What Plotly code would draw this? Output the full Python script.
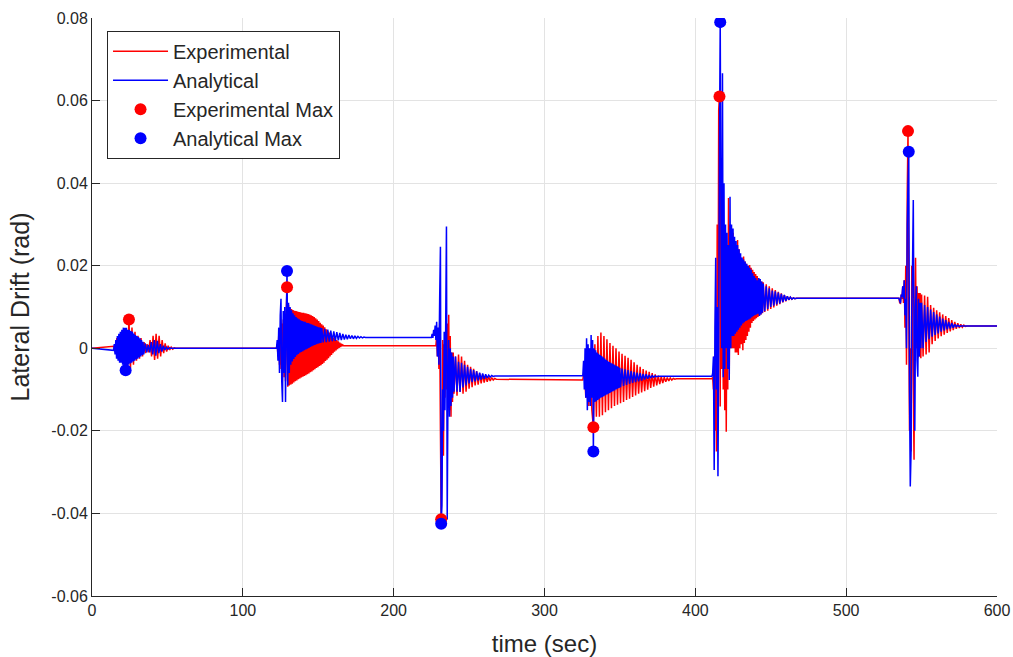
import plotly.graph_objects as go

# ---------------- data ----------------
# each oscillation segment: start time, sample step (s), sampled drift values (rad)
START_T, START_V = 0.0, 0.0
END_T, END_V = 600.0, 0.0054

exp_e1_t0, exp_e1_dt = 14.5, 1.0
exp_e1 = [0.0005, -0.001, 0.0025, -0.002, 0.003, -0.003, 0.004, -0.004, 0.0045, -0.0045, 0.007, -0.0048,
          0.005, -0.004, 0.004, -0.003, 0.003, -0.0025, 0.0025, -0.002, 0.0015, -0.0012, 0.001, -0.001,
          0.002, -0.002, 0.003, -0.0028, 0.0035, -0.0025, 0.003, -0.002, 0.002, -0.0012, 0.0012, -0.0008,
          0.0006, -0.0004, 0.0003, -0.0002, 0.0001, 0.0]
exp_e2_t0, exp_e2_dt = 122.3, 0.5
exp_e2 = [0.0, 0.001, -0.002, 0.003, -0.004, 0.004, -0.005, 0.006, -0.006, 0.007, -0.007, 0.008, -0.008,
          0.009, 0.0148, -0.0093, 0.0105, -0.009, 0.0098, -0.0088, 0.0095, -0.0086, 0.0093, -0.0083, 0.0091,
          -0.008, 0.009, -0.0078, 0.0089, -0.0075, 0.0088, -0.0073, 0.0087, -0.0071, 0.0086, -0.0069, 0.0086,
          -0.0067, 0.0085, -0.0065, 0.0084, -0.0063, 0.0083, -0.0061, 0.0082, -0.0058, 0.008, -0.0056,
          0.0078, -0.0053, 0.0076, -0.0051, 0.0073, -0.0048, 0.007, -0.0046, 0.0066, -0.0043, 0.0062,
          -0.0041, 0.0058, -0.0038, 0.0055, -0.0035, 0.0051, -0.0031, 0.0046, -0.0028, 0.0042, -0.0024,
          0.0038, -0.002, 0.0034, -0.0016, 0.003, -0.0012, 0.0026, -0.0008, 0.0023, -0.0005, 0.002, -0.0002,
          0.0017, 0.0001, 0.0014, 0.0003, 0.0011, 0.0005, 0.0008, 0.0006, 0.0006]
exp_e3a_t0, exp_e3a_dt = 228.0, 0.5
exp_e3a = [0.0006, 0.003, -0.002, 0.004, -0.005, 0.006, -0.02, -0.0414, -0.03, 0.002, -0.026, 0.001,
           -0.012, 0.004, -0.01, 0.006, -0.012, 0.0081, -0.015, 0.003, -0.0166, -0.001, -0.013, -0.001, -0.011]
exp_e3b_t0, exp_e3b_dt = 241.0, 1.0
exp_e3b = [-0.002, -0.0115, -0.0015, -0.0105, -0.002, -0.011, -0.003, -0.0105, -0.004, -0.0098, -0.0045,
           -0.0094, -0.005, -0.009, -0.0055, -0.0088, -0.006, -0.0085, -0.0063, -0.0083, -0.0066, -0.0081,
           -0.0069, -0.0079, -0.0071, -0.0077, -0.0073, -0.0075]
exp_e4_t0, exp_e4_dt = 325.4, 1.0
exp_e4 = [-0.0077, -0.005, -0.012, -0.002, -0.014, 0.0, -0.015, -0.0191, 0.001, -0.0166, 0.003, -0.0166,
          0.0038, -0.0162, 0.003, -0.0155, 0.0022, -0.015, 0.0013, -0.0145, 0.0006, -0.014, 0.0, -0.0137,
          -0.0008, -0.0133, -0.0013, -0.013, -0.0018, -0.0125, -0.0023, -0.0122, -0.0028, -0.0118, -0.0034,
          -0.0114, -0.004, -0.011, -0.0045, -0.0107, -0.005, -0.0104, -0.0054, -0.01, -0.0057, -0.0096,
          -0.006, -0.0093, -0.0063, -0.009, -0.0066, -0.0087, -0.0068, -0.0084, -0.007, -0.0081, -0.0071,
          -0.0079, -0.0072, -0.0077, -0.0073, -0.0075, -0.0074]
exp_e5a_t0, exp_e5a_dt = 411.0, 0.5
exp_e5a = [-0.0074, -0.007, -0.01, -0.002, -0.02, 0.01, -0.025, 0.03, -0.01, 0.0577, 0.061, -0.0141,
           0.045, -0.005, 0.03, -0.01, 0.025, -0.015, 0.02, -0.0202, 0.018, -0.01, 0.0364, -0.005, 0.03,
           0.0, 0.025, 0.0]
exp_e5b_t0, exp_e5b_dt = 425.0, 0.5
exp_e5b = [0.028, 0.0, 0.024, -0.001, 0.022, -0.001, 0.0262, -0.0016, 0.024, 0.0, 0.022, 0.001, 0.021,
           -0.0005, 0.0222, 0.0013, 0.021, 0.002, 0.0205, 0.003, 0.02, 0.004, 0.0202, 0.005, 0.0195, 0.0061,
           0.019, 0.0066, 0.0185, 0.007, 0.018, 0.0073, 0.0175, 0.0076, 0.017, 0.0079, 0.0166, 0.0082,
           0.0162, 0.0085]
exp_e5c_t0, exp_e5c_dt = 445.0, 1.0
exp_e5c = [0.016, 0.0088, 0.0155, 0.0091, 0.015, 0.0095, 0.0145, 0.0099, 0.0141, 0.0103, 0.0137, 0.0107,
           0.0133, 0.0111, 0.0129, 0.0114, 0.0126, 0.0117, 0.0124, 0.0119, 0.0122, 0.012, 0.0121, 0.0121]
exp_e6a_t0, exp_e6a_dt = 535.0, 0.5
exp_e6a = [0.0121, 0.011, 0.0109, 0.013, 0.012, 0.015, 0.011, 0.0165, 0.005, 0.02, -0.004, 0.0375, 0.0526,
           0.01, -0.02, 0.0, -0.025, 0.02, 0.01, -0.01, -0.027, 0.01, 0.0219, 0.0, 0.015, -0.0024, 0.0134,
           -0.002, 0.0134, -0.0024]
exp_e6b_t0, exp_e6b_dt = 550.0, 1.0
exp_e6b = [0.013, -0.002, 0.0128, -0.0015, 0.0125, -0.001, 0.0105, 0.001, 0.0098, 0.0018, 0.0092, 0.0024,
           0.0087, 0.0029, 0.0082, 0.0033, 0.0078, 0.0037, 0.0073, 0.0041, 0.0068, 0.0044, 0.0064, 0.0047,
           0.0061, 0.0049, 0.0058, 0.0051, 0.0056, 0.0053, 0.0054]

ana_e1a_t0, ana_e1a_dt = 14.3, 0.5
ana_e1a = [-0.0005, 0.001, -0.0015, 0.002, -0.0025, 0.003, -0.003, 0.0035, -0.0035, 0.004, -0.0035, 0.0045,
           -0.004, 0.005, -0.0045, 0.005, -0.0053, 0.005, -0.0042, 0.0045, -0.004, 0.0045, -0.0037, 0.0042,
           -0.0035, 0.004, -0.0032, 0.0036, -0.003, 0.0032, -0.0027, 0.003, -0.0025, 0.0027, -0.0022, 0.0024,
           -0.002, 0.002, -0.0017, 0.0016]
ana_e1b_t0, ana_e1b_dt = 34.3, 1.0
ana_e1b = [-0.0015, 0.0012, -0.001, 0.0008, -0.001, 0.0015, -0.0015, 0.002, -0.0018, 0.0018, -0.0012, 0.001,
           -0.0008, 0.0006, -0.0004, 0.0003, -0.0002, 0.0001, 0.0]
ana_e2a_t0, ana_e2a_dt = 122.3, 0.5
ana_e2a = [0.0, 0.002, -0.003, 0.005, -0.006, 0.008, 0.012, -0.008, -0.013, 0.009, -0.006, 0.01, -0.013,
           0.007, 0.0187, -0.009, 0.011, -0.006, 0.01, -0.004, 0.0092, -0.0032, 0.0085, -0.0026, 0.008,
           -0.0021, 0.0076, -0.0017, 0.0073, -0.0014, 0.007, -0.0011, 0.0068, -0.0009, 0.0066, -0.0007,
           0.0065, -0.0005, 0.0064, -0.0003, 0.0062, -0.0001, 0.0061, 0.0001, 0.006, 0.0003, 0.0058, 0.0005,
           0.0057, 0.0007, 0.0055, 0.0008, 0.0054, 0.001, 0.0052, 0.0011, 0.0051, 0.0012, 0.005, 0.0013]
ana_e2b_t0, ana_e2b_dt = 152.3, 1.0
ana_e2b = [0.0049, 0.0014, 0.0047, 0.0015, 0.0045, 0.0016, 0.0043, 0.0017, 0.0041, 0.0018, 0.0039, 0.0019,
           0.0037, 0.002, 0.0035, 0.0021, 0.0033, 0.0022, 0.0032, 0.0023, 0.0031, 0.0023, 0.003, 0.0024,
           0.0029, 0.0025, 0.0028, 0.0025, 0.0027, 0.0026, 0.0026]
ana_e3a_t0, ana_e3a_dt = 225.0, 0.5
ana_e3a = [0.0026, 0.0035, 0.0025, 0.0045, 0.003, 0.0055, 0.002, 0.0064, -0.002, 0.005, -0.004, 0.012,
           0.0246, -0.0425, -0.038, -0.01, -0.02, 0.004, -0.015, 0.006, 0.0295, -0.0415, -0.01, 0.002,
           -0.0166, 0.0, -0.014, -0.001, -0.012, -0.002, -0.0105]
ana_e3b_t0, ana_e3b_dt = 241.0, 1.0
ana_e3b = [-0.002, -0.0105, -0.0033, -0.0106, -0.0035, -0.0095, -0.004, -0.009, -0.0045, -0.0085, -0.005,
           -0.0082, -0.0053, -0.008, -0.0056, -0.0078, -0.0059, -0.0076, -0.0061, -0.0074, -0.0063, -0.0072,
           -0.0065, -0.007, -0.0066, -0.0068, -0.0067, -0.0067]
ana_e4a_t0, ana_e4a_dt = 325.4, 0.5
ana_e4a = [-0.0066, -0.003, -0.01, 0.0, -0.012, 0.0024, -0.015, 0.001, -0.013, 0.0, -0.014, 0.0032, -0.012,
           0.002, -0.025, 0.0, -0.013, -0.0005, -0.0128, -0.001, -0.0125, -0.0013, -0.0122, -0.0016, -0.012,
           -0.0019, -0.0118, -0.0022, -0.0116, -0.0025, -0.0114, -0.0028, -0.0112, -0.003, -0.011, -0.0033,
           -0.0108, -0.0035, -0.0106, -0.0037, -0.0104, -0.0039, -0.0102, -0.0041, -0.01, -0.0043, -0.0098,
           -0.0045, -0.0096, -0.0047, -0.0094]
ana_e4b_t0, ana_e4b_dt = 351.4, 1.0
ana_e4b = [-0.0049, -0.0091, -0.0051, -0.0089, -0.0053, -0.0086, -0.0055, -0.0084, -0.0057, -0.0082,
           -0.0059, -0.008, -0.006, -0.0078, -0.0062, -0.0076, -0.0063, -0.0074, -0.0065, -0.0072, -0.0066,
           -0.007, -0.0067, -0.0069, -0.0068]
ana_e5a_t0, ana_e5a_dt = 411.0, 0.5
ana_e5a = [-0.0068, -0.006, -0.002, -0.0295, 0.005, 0.0219, -0.01, 0.01, -0.031, 0.0, 0.05, 0.079, 0.03,
           0.0, 0.0666, -0.007, 0.04, -0.005, 0.03, 0.0, 0.028, -0.005, 0.025, -0.0077, 0.0367, 0.0, 0.03, 0.003]
ana_e5b_t0, ana_e5b_dt = 425.0, 0.5
ana_e5b = [0.029, 0.003, 0.027, 0.0035, 0.026, 0.004, 0.025, 0.0045, 0.024, 0.005, 0.023, 0.0055, 0.022,
           0.006, 0.0215, 0.0063, 0.021, 0.0066, 0.0205, 0.0068, 0.02, 0.007, 0.0195, 0.0072, 0.019, 0.0075,
           0.0182, 0.0078, 0.0175, 0.008, 0.017, 0.0082, 0.0165, 0.0084, 0.017, 0.0078, 0.0168, 0.0082,
           0.0162, 0.0086]
ana_e5c_t0, ana_e5c_dt = 445.0, 1.0
ana_e5c = [0.0157, 0.009, 0.015, 0.0095, 0.0145, 0.01, 0.014, 0.0103, 0.0138, 0.0106, 0.0135, 0.0109,
           0.0132, 0.0112, 0.0129, 0.0115, 0.0126, 0.0118, 0.0124, 0.0119, 0.0122, 0.012, 0.0121, 0.0121]
ana_e6a_t0, ana_e6a_dt = 535.0, 0.5
ana_e6a = [0.0121, 0.0115, 0.0109, 0.013, 0.0125, 0.015, 0.012, 0.0165, 0.008, 0.012, 0.0, 0.03, 0.04,
           0.0476, -0.01, -0.0335, -0.0254, 0.01, 0.02, 0.0359, 0.0, -0.02, 0.01, 0.015, -0.003, -0.0069,
           0.012, -0.002, 0.011, 0.0]
ana_e6b_t0, ana_e6b_dt = 550.0, 1.0
ana_e6b = [0.011, 0.0, 0.0105, 0.0015, 0.01, 0.0022, 0.0094, 0.0028, 0.0088, 0.0032, 0.0082, 0.0036,
           0.0077, 0.004, 0.0072, 0.0043, 0.0068, 0.0046, 0.0064, 0.0048, 0.0061, 0.005, 0.0058, 0.0052,
           0.0056, 0.0053, 0.0054]

exp_max_t = [24.5, 129.3, 231.5, 332.4, 416.0, 541.0]
exp_max_v = [0.007, 0.0148, -0.0414, -0.0191, 0.061, 0.0526]
ana_max_t = [22.3, 129.3, 231.5, 332.4, 416.5, 541.5]
ana_max_v = [-0.0053, 0.0187, -0.0425, -0.025, 0.079, 0.0476]

x_ticks = [0, 100, 200, 300, 400, 500, 600]
y_ticks = [-0.06, -0.04, -0.02, 0, 0.02, 0.04, 0.06, 0.08]
y_tick_text = ["-0.06", "-0.04", "-0.02", "0", "0.02", "0.04", "0.06", "0.08"]


def build(segments):
    t, v = [START_T], [START_V]
    for t0, dt, vals in segments:
        for i, val in enumerate(vals):
            t.append(round(t0 + i * dt, 3))
            v.append(val)
    t.append(END_T)
    v.append(END_V)
    return t, v


exp_t, exp_v = build([
    (exp_e1_t0, exp_e1_dt, exp_e1), (exp_e2_t0, exp_e2_dt, exp_e2),
    (exp_e3a_t0, exp_e3a_dt, exp_e3a), (exp_e3b_t0, exp_e3b_dt, exp_e3b),
    (exp_e4_t0, exp_e4_dt, exp_e4),
    (exp_e5a_t0, exp_e5a_dt, exp_e5a), (exp_e5b_t0, exp_e5b_dt, exp_e5b),
    (exp_e5c_t0, exp_e5c_dt, exp_e5c),
    (exp_e6a_t0, exp_e6a_dt, exp_e6a), (exp_e6b_t0, exp_e6b_dt, exp_e6b)])
ana_t, ana_v = build([
    (ana_e1a_t0, ana_e1a_dt, ana_e1a), (ana_e1b_t0, ana_e1b_dt, ana_e1b),
    (ana_e2a_t0, ana_e2a_dt, ana_e2a), (ana_e2b_t0, ana_e2b_dt, ana_e2b),
    (ana_e3a_t0, ana_e3a_dt, ana_e3a), (ana_e3b_t0, ana_e3b_dt, ana_e3b),
    (ana_e4a_t0, ana_e4a_dt, ana_e4a), (ana_e4b_t0, ana_e4b_dt, ana_e4b),
    (ana_e5a_t0, ana_e5a_dt, ana_e5a), (ana_e5b_t0, ana_e5b_dt, ana_e5b),
    (ana_e5c_t0, ana_e5c_dt, ana_e5c),
    (ana_e6a_t0, ana_e6a_dt, ana_e6a), (ana_e6b_t0, ana_e6b_dt, ana_e6b)])

RED = "#ff0000"
BLUE = "#0000ff"
AXC = "#262626"
FONT = "Liberation Sans, Arial, sans-serif"

fig = go.Figure()
fig.add_trace(go.Scatter(x=exp_t, y=exp_v, mode="lines", name="Experimental",
                         line=dict(color=RED, width=1.5, simplify=False)))
fig.add_trace(go.Scatter(x=ana_t, y=ana_v, mode="lines", name="Analytical",
                         line=dict(color=BLUE, width=1.5, simplify=False)))
fig.add_trace(go.Scatter(x=exp_max_t, y=exp_max_v, mode="markers", name="Experimental Max",
                         marker=dict(color=RED, size=12)))
fig.add_trace(go.Scatter(x=ana_max_t, y=ana_max_v, mode="markers", name="Analytical Max",
                         marker=dict(color=BLUE, size=12)))

fig.update_layout(
    width=1013, height=657,
    margin=dict(l=92, r=16, t=18, b=61),
    paper_bgcolor="white", plot_bgcolor="white",
    font=dict(family=FONT, color=AXC, size=16),
    showlegend=True,
    legend=dict(x=0.0166, y=0.978, xanchor="left", yanchor="top",
                bgcolor="white", bordercolor=AXC, borderwidth=1,
                font=dict(size=20, color=AXC, family=FONT),
                itemwidth=55, tracegroupgap=0),
)
fig.update_xaxes(range=[0, 600], tickvals=x_ticks, ticktext=[str(v) for v in x_ticks],
                 automargin=False,
                 showgrid=True, gridcolor="#e3e3e3", gridwidth=1, zeroline=False,
                 showline=True, linecolor=AXC, linewidth=1, mirror=False,
                 ticks="inside", ticklen=8, tickcolor=AXC,
                 tickfont=dict(size=16, color=AXC),
                 title=dict(text="time (sec)", font=dict(size=24, color=AXC), standoff=17))
fig.update_yaxes(range=[-0.06, 0.08], tickvals=y_ticks, ticktext=y_tick_text,
                 automargin=False,
                 showgrid=True, gridcolor="#e3e3e3", gridwidth=1, zeroline=False,
                 showline=True, linecolor=AXC, linewidth=1, mirror=False,
                 ticks="inside", ticklen=8, tickcolor=AXC,
                 tickfont=dict(size=16, color=AXC),
                 title=dict(text="Lateral Drift (rad)", font=dict(size=25, color=AXC), standoff=14))

fig.write_html("out.html")
